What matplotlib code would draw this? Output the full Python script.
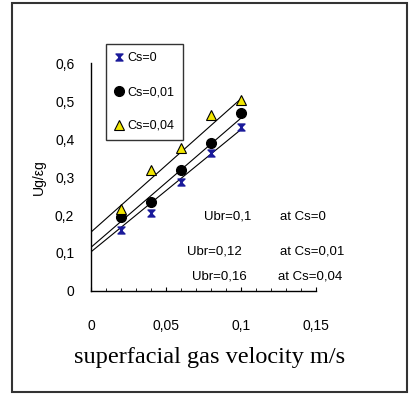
import numpy as np
import matplotlib
matplotlib.use('Agg')
import matplotlib.pyplot as plt
from matplotlib.path import Path
from matplotlib.patches import Rectangle

# data
ug = [0.02, 0.04, 0.06, 0.08, 0.1]
cs0 = [0.16, 0.205, 0.287, 0.363, 0.432]
cs001 = [0.195, 0.234, 0.318, 0.389, 0.468]
cs004 = [0.216, 0.318, 0.376, 0.463, 0.503]
labels = ['Cs=0', 'Cs=0,01', 'Cs=0,04']

# trend lines, value at ug=0 and at ug=0.1
fit_x = [0, 0.1]
fit_start = [0.103, 0.115, 0.155]
fit_end = [0.425, 0.455, 0.506]

notes = [('Ubr=0,1', 'at Cs=0'), ('Ubr=0,12', 'at Cs=0,01'), ('Ubr=0,16', 'at Cs=0,04')]

plt.rcParams['font.family'] = ['Liberation Sans Narrow', 'Liberation Sans', 'DejaVu Sans']

fig = plt.figure(figsize=(4.09, 3.94), dpi=100)
ax = fig.add_axes([91/409, 1-291/394, 225/409, 228/394])

# hourglass marker
hg = Path([(-1, 1), (1, 1), (-1, -1), (1, -1), (-1, 1)],
          [Path.MOVETO, Path.LINETO, Path.LINETO, Path.LINETO, Path.CLOSEPOLY])

for s, e in zip(fit_start, fit_end):
    ax.plot(fit_x, [s, e], color='black', lw=0.8, zorder=1)

ax.plot(ug, cs0, ls='none', marker=hg, ms=5, color='#1a1a9a', label=labels[0], zorder=3)
ax.plot(ug, cs001, ls='none', marker='o', ms=7, color='black', label=labels[1], zorder=3)
ax.plot(ug, cs004, ls='none', marker='^', ms=6.5, mfc='#f2e600', mec='black', mew=0.8,
        label=labels[2], zorder=4)

ax.set_xlim(0, 0.15)
ax.set_ylim(0, 0.6)
ax.set_xticks([0, 0.05, 0.1, 0.15])
ax.set_xticklabels(['0', '0,05', '0,1', '0,15'])
ax.set_yticks([0, 0.1, 0.2, 0.3, 0.4, 0.5, 0.6])
ax.set_yticklabels(['0', '0,1', '0,2', '0,3', '0,4', '0,5', '0,6'])
ax.set_xticks(np.arange(0, 0.151, 0.01), minor=True)
ax.tick_params(axis='x', which='major', direction='in', length=3, pad=20, labelsize=10)
ax.tick_params(axis='x', which='minor', direction='in', length=2)
ax.tick_params(axis='y', length=0, pad=12, labelsize=10)
for sp in ['top', 'right']:
    ax.spines[sp].set_visible(False)
for sp in ['left', 'bottom']:
    ax.spines[sp].set_linewidth(1.0)

ax.set_ylabel('Ug/εg', fontsize=10, labelpad=0)
ax.yaxis.set_label_coords(-0.2, 0.5)
ax.set_xlabel('superfacial gas velocity m/s', family=['Liberation Serif', 'DejaVu Serif'],
              fontsize=17.5, labelpad=10)
ax.xaxis.set_label_coords(119/225, -0.245)

leg = ax.legend(loc='upper left', bbox_to_anchor=(15/225, 1.083), frameon=True, fancybox=False,
                edgecolor='black', fontsize=9, handlelength=0.7, handletextpad=0.4,
                labelspacing=1.75, borderpad=0.65, borderaxespad=0)
leg.get_frame().set_linewidth(1.0)

ax.text(0.0913, 0.195, notes[0][0], ha='center', va='center', fontsize=9.5)
ax.text(0.126, 0.195, notes[0][1], ha='left', va='center', fontsize=9.5)
ax.text(0.064, 0.103, notes[1][0], ha='left', va='center', fontsize=9.5)
ax.text(0.126, 0.103, notes[1][1], ha='left', va='center', fontsize=9.5)
ax.text(0.0673, 0.037, notes[2][0], ha='left', va='center', fontsize=9.5)
ax.text(0.125, 0.037, notes[2][1], ha='left', va='center', fontsize=9.5)

fig.patches.append(Rectangle((12/409, 2/394), 395/409, 389/394, transform=fig.transFigure,
                             fill=False, edgecolor='#333333', lw=1.5))

fig.savefig('out.png', dpi=100)
